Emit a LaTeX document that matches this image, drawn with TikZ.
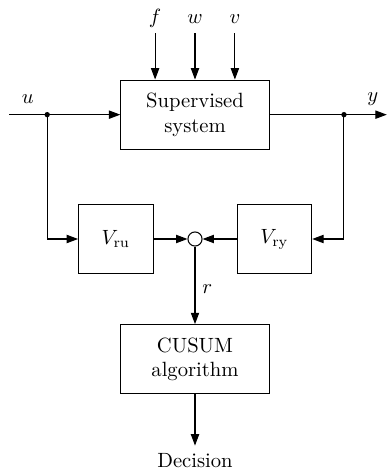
\documentclass[tikz,border=0pt]{standalone}
\usepackage{amsmath}
\usepackage{tikz}
\usetikzlibrary{positioning,arrows.meta,calc}

\tikzset{
  blk/.style={draw, minimum height=1.18cm, align=center, inner sep=2pt},
  sig/.style={inner sep=2pt, text height=1.5ex, text depth=.6ex},
  junc/.style={circle, fill, inner sep=0pt, minimum size=2.6pt},
}

\begin{document}
\begin{tikzpicture}[line width=0.5pt, >={Triangle[length=5.5pt,width=4pt]}]
\useasboundingbox (-3.325,-4.007) rectangle (3.27,4.075);
% plant and the residual generator
\node[blk, minimum width=2.53cm] (sys) at (0,2.12) {Supervised\\ system};
\node[blk, minimum width=1.27cm] (vru) at (-1.35,0) {$V_{\mathrm{ru}}$};
\node[blk, minimum width=1.27cm] (vry) at (1.355,0) {$V_{\mathrm{ry}}$};
\node[draw, circle, minimum size=0.24cm, inner sep=0pt] (sum) at (0,0) {};
\node[blk, minimum width=2.54cm] (cusum) at (0,-2.05) {CUSUM\\ algorithm};
\node (dec) at (0,-3.77) {Decision};
% disturbances and faults
\node[sig, anchor=south] (f) at (-0.68,3.51) {$f$};
\node[sig, anchor=south] (w) at (0,3.51) {$w$};
\node[sig, anchor=south] (v) at (0.68,3.51) {$v$};
\draw[->] (f) -- (f |- sys.north);
\draw[->] (w) -- (w |- sys.north);
\draw[->] (v) -- (v |- sys.north);
% input and output
\coordinate (uin) at (-3.17,2.12);
\coordinate (yout) at (3.27,2.12);
\node[junc] (ubr) at (-2.52,2.12) {};
\node[junc] (ybr) at (2.54,2.12) {};
\node (ulbl) at (-2.85,2.39) {$u$};
\node (ylbl) at (3.03,2.39) {$y$};
\draw[->] (uin) -- (sys.west);
\draw[->] (sys.east) -- (yout);
\draw[->] (ubr.center) |- (vru.west);
\draw[->] (ybr.center) |- (vry.east);
\draw[->] (vru) -- (sum);
\draw[->] (vry) -- (sum);
\draw[->] (sum) -- node[right, pos=0.55] {$r$} (cusum);
\draw[->] (cusum) -- (dec);
\end{tikzpicture}
\end{document}
